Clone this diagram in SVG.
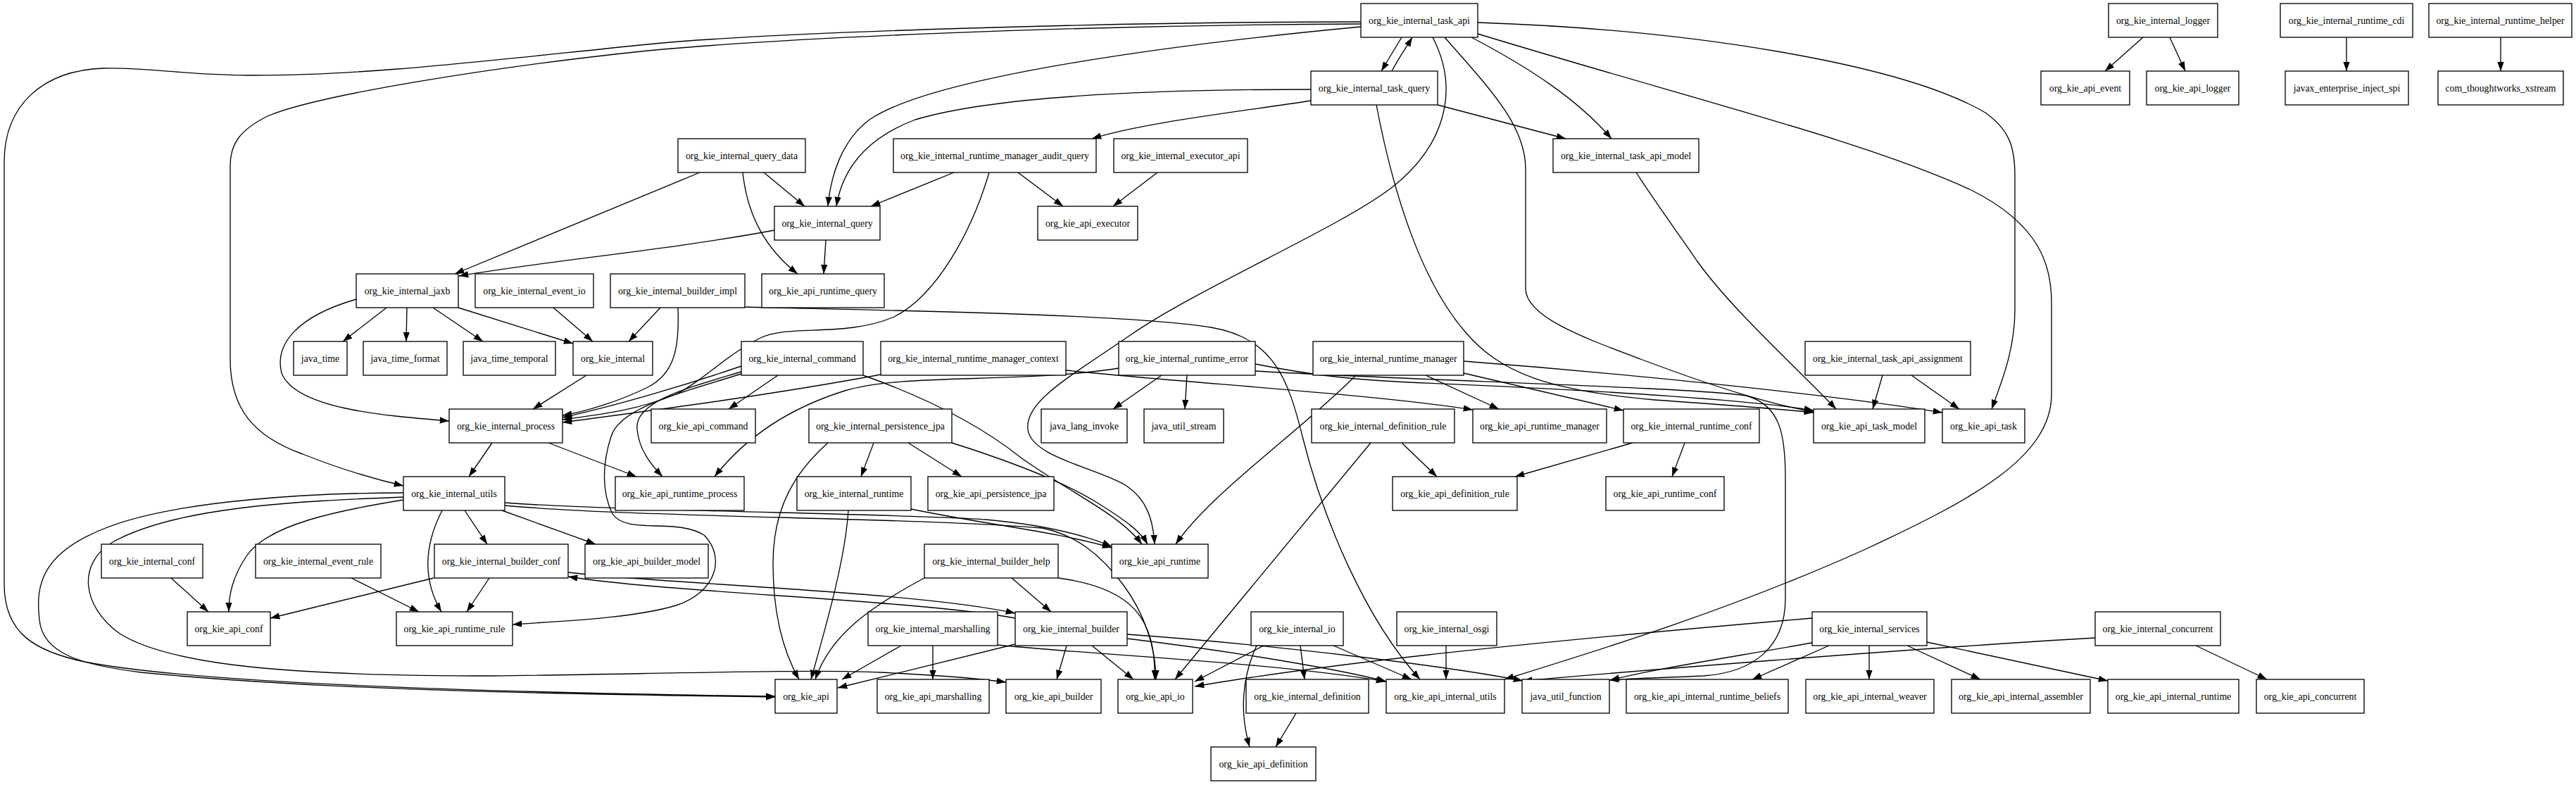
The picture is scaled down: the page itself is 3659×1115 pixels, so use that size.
<svg xmlns="http://www.w3.org/2000/svg" width="3659" height="1115" viewBox="0 0 3659 1115">
<style>
.n rect{fill:#fff;stroke:#000;stroke-width:1.33}
.n text{font-family:"Liberation Serif","Times New Roman",serif;font-size:13.8px;text-anchor:middle;fill:#000}
.e path{fill:none;stroke:#000;stroke-width:1.33;marker-end:url(#a)}
</style>
<defs>
<marker id="a" markerWidth="14" markerHeight="10" refX="13.3" refY="4.7" orient="auto" markerUnits="userSpaceOnUse"><path d="M0,0 L13.3,4.7 L0,9.4 z" fill="#000"/></marker>
</defs>
<rect width="3659" height="1115" fill="#fff"/>
<g id="edges" class="e">
<path d="M1991,53 L1962,101"/>
<path d="M1977,101 C1985,85 1997,68 2006,53"/>
<path d="M2090,53 C2170,95 2240,140 2289,197"/>
<path d="M1933,38 C1700,60 1330,105 1235,170 C1195,200 1180,250 1176,293"/>
<path d="M1933,31 C1600,31 1100,45 920,63 C700,85 520,108 352,107 C260,106 200,95 147,97 C60,100 6,150 6,230 L6,830 C6,900 50,925 120,940 C300,975 800,985 1101,989"/>
<path d="M1933,34 C1500,36 1100,55 920,72 C700,95 450,135 380,165 C340,185 327,205 327,235 L327,510 C327,580 360,620 430,645 C480,665 530,680 573,690"/>
<path d="M2035,53 C2075,130 2050,210 1976,267 C1900,325 1700,410 1604,477 C1520,535 1455,570 1460,610 C1465,650 1560,665 1600,690 C1630,710 1638,740 1640,773"/>
<path d="M2052,53 C2120,130 2167,180 2167,240 L2167,410 C2167,450 2250,480 2330,510 C2450,555 2520,575 2576,585"/>
<path d="M2099,32 C2400,42 2700,90 2820,160 C2855,185 2862,210 2862,250 L2862,440 C2862,500 2840,550 2829,581"/>
<path d="M2099,48 C2400,140 2650,200 2800,270 C2900,320 2914,380 2914,430 L2914,560 C2914,650 2800,710 2650,780 C2450,870 2250,930 2137,965"/>
<path d="M1862,127 C1600,127 1400,140 1300,170 C1220,200 1195,250 1188,293"/>
<path d="M1862,143 C1750,160 1620,175 1551,197"/>
<path d="M2042,149 L2224,197"/>
<path d="M1955,149 C1980,280 2020,400 2080,470 C2130,530 2200,555 2350,568 C2450,575 2520,580 2576,586"/>
<path d="M3044,53 L2990,101"/>
<path d="M3082,53 L3104,101"/>
<path d="M3333,53 L3333,101"/>
<path d="M3552,53 L3552,101"/>
<path d="M1085,245 L1143,293"/>
<path d="M994,245 L646,389"/>
<path d="M1055,245 C1062,310 1090,355 1133,389"/>
<path d="M1355,245 L1237,293"/>
<path d="M1446,245 L1510,293"/>
<path d="M1405,245 C1380,330 1330,420 1270,450 C1200,480 1120,460 1080,480 C1030,505 1000,540 960,560 C900,585 840,590 799,596"/>
<path d="M1644,245 L1581,293"/>
<path d="M2324,245 C2360,300 2390,340 2410,370 C2460,440 2550,520 2608,581"/>
<path d="M1100,327 C950,355 780,370 652,392"/>
<path d="M1173,341 L1170,389"/>
<path d="M549,437 L487,485"/>
<path d="M578,437 L577,485"/>
<path d="M615,437 L686,485"/>
<path d="M651,437 L814,488"/>
<path d="M506,425 C420,450 390,490 400,530 C420,580 540,590 638,598"/>
<path d="M786,437 L842,485"/>
<path d="M938,437 L893,485"/>
<path d="M963,437 C965,490 960,530 920,550 C880,570 830,585 799,590"/>
<path d="M1058,436 C1200,440 1600,445 1720,465 C1810,480 1830,540 1850,620 C1880,740 1940,880 2017,965"/>
<path d="M833,533 L757,581"/>
<path d="M1053,520 C980,545 880,575 799,593"/>
<path d="M1105,533 L1035,581"/>
<path d="M1053,528 C980,550 900,570 905,610 C908,640 925,660 941,677"/>
<path d="M1053,531 C960,560 880,580 868,620 C855,660 855,700 870,730 C890,760 960,735 1000,760 C1030,790 1020,840 960,860 C900,878 800,882 728,887"/>
<path d="M1226,533 C1330,570 1400,610 1450,650 C1520,700 1590,730 1622,773"/>
<path d="M1251,532 C1100,560 950,580 799,600"/>
<path d="M1514,526 C1700,545 1950,560 2092,582"/>
<path d="M1589,523 C1450,545 1280,530 1200,555 C1120,580 1060,620 1015,677"/>
<path d="M1650,533 L1581,581"/>
<path d="M1686,533 L1683,581"/>
<path d="M1783,517 C1850,530 1900,538 2000,543 C2300,555 2500,570 2576,583"/>
<path d="M1783,527 C2000,540 2400,550 2480,562 C2530,575 2536,620 2536,680 L2536,850 C2536,920 2490,955 2420,960 C2350,963 2310,964 2286,966"/>
<path d="M2025,533 L2129,581"/>
<path d="M2079,530 L2306,583"/>
<path d="M2079,513 C2300,530 2600,560 2759,586"/>
<path d="M1926,533 C1850,610 1720,700 1670,773"/>
<path d="M2674,533 L2660,581"/>
<path d="M2715,533 L2783,581"/>
<path d="M699,629 L666,677"/>
<path d="M779,629 L904,677"/>
<path d="M1241,629 L1223,677"/>
<path d="M1290,629 L1366,677"/>
<path d="M1176,629 C1130,670 1098,720 1098,800 C1098,880 1115,930 1135,965"/>
<path d="M1352,629 C1450,660 1520,690 1560,715 C1600,740 1620,755 1630,773"/>
<path d="M1991,629 L2041,677"/>
<path d="M1947,629 L1669,965"/>
<path d="M2319,629 L2152,677"/>
<path d="M2393,629 L2375,677"/>
<path d="M660,725 L692,773"/>
<path d="M713,725 L846,773"/>
<path d="M628,725 C605,770 598,820 627,869"/>
<path d="M573,710 C480,725 380,745 350,790 C330,820 325,845 325,869"/>
<path d="M573,700 C450,700 250,710 150,750 C60,785 50,830 56,880 C60,930 120,945 200,955 C450,980 800,986 1101,990"/>
<path d="M573,706 C420,712 250,720 160,770 C110,800 115,860 170,900 C250,950 450,960 700,960 C900,958 1150,950 1250,955 C1350,960 1400,965 1429,969"/>
<path d="M717,714 C850,725 1300,730 1400,738 C1480,745 1540,760 1579,776"/>
<path d="M717,718 C900,735 1300,735 1480,750 C1530,760 1565,790 1595,830 C1625,870 1642,920 1642,965"/>
<path d="M1294,723 C1400,745 1500,755 1579,778"/>
<path d="M1205,725 C1200,800 1170,900 1152,965"/>
<path d="M243,821 L296,869"/>
<path d="M499,821 L595,869"/>
<path d="M616,821 L384,878"/>
<path d="M695,821 L663,869"/>
<path d="M807,813 C950,830 1300,840 1442,871"/>
<path d="M1442,878 C1300,852 950,842 807,819"/>
<path d="M1313,821 C1240,860 1180,900 1158,965"/>
<path d="M1437,821 L1493,869"/>
<path d="M1503,821 C1610,835 1642,880 1640,965"/>
<path d="M1280,917 L1196,965"/>
<path d="M1325,917 L1325,965"/>
<path d="M1417,916 C1550,930 1800,940 1968,968"/>
<path d="M1442,915 L1190,977"/>
<path d="M1515,917 L1501,965"/>
<path d="M1551,917 L1610,965"/>
<path d="M1601,907 C1750,925 1900,950 1969,968"/>
<path d="M1601,901 C1800,915 2050,945 2163,967"/>
<path d="M1795,917 L1697,968"/>
<path d="M1847,917 L1853,965"/>
<path d="M1785,917 C1765,960 1760,1010 1775,1061"/>
<path d="M1894,917 L2005,965"/>
<path d="M2054,917 L2054,965"/>
<path d="M1841,1013 L1812,1061"/>
<path d="M2574,878 C2200,910 1900,940 1697,975"/>
<path d="M2574,913 C2450,935 2350,950 2287,966"/>
<path d="M2598,917 L2489,965"/>
<path d="M2655,917 L2655,965"/>
<path d="M2709,917 L2813,965"/>
<path d="M2737,912 L2994,967"/>
<path d="M2976,906 C2700,922 2300,955 2163,967"/>
<path d="M3119,917 L3220,965"/>
</g>
<g id="org_kie_internal_task_api" class="n"><rect x="1933" y="5" width="166" height="48"/><text x="2016" y="33.5">org_kie_internal_task_api</text></g>
<g id="org_kie_internal_logger" class="n"><rect x="2995" y="5" width="155" height="48"/><text x="3072.5" y="33.5">org_kie_internal_logger</text></g>
<g id="org_kie_internal_runtime_cdi" class="n"><rect x="3239" y="5" width="188" height="48"/><text x="3333" y="33.5">org_kie_internal_runtime_cdi</text></g>
<g id="org_kie_internal_runtime_helper" class="n"><rect x="3450" y="5" width="203" height="48"/><text x="3551.5" y="33.5">org_kie_internal_runtime_helper</text></g>
<g id="org_kie_internal_task_query" class="n"><rect x="1862" y="101" width="180" height="48"/><text x="1952" y="129.5">org_kie_internal_task_query</text></g>
<g id="org_kie_api_event" class="n"><rect x="2899" y="101" width="126" height="48"/><text x="2962" y="129.5">org_kie_api_event</text></g>
<g id="org_kie_api_logger" class="n"><rect x="3049" y="101" width="131" height="48"/><text x="3114.5" y="129.5">org_kie_api_logger</text></g>
<g id="javax_enterprise_inject_spi" class="n"><rect x="3246" y="101" width="175" height="48"/><text x="3333.5" y="129.5">javax_enterprise_inject_spi</text></g>
<g id="com_thoughtworks_xstream" class="n"><rect x="3463" y="101" width="178" height="48"/><text x="3552" y="129.5">com_thoughtworks_xstream</text></g>
<g id="org_kie_internal_query_data" class="n"><rect x="963" y="197" width="181" height="48"/><text x="1053.5" y="225.5">org_kie_internal_query_data</text></g>
<g id="org_kie_internal_runtime_manager_audit_query" class="n"><rect x="1269" y="197" width="288" height="48"/><text x="1413" y="225.5">org_kie_internal_runtime_manager_audit_query</text></g>
<g id="org_kie_internal_executor_api" class="n"><rect x="1582" y="197" width="190" height="48"/><text x="1677" y="225.5">org_kie_internal_executor_api</text></g>
<g id="org_kie_internal_task_api_model" class="n"><rect x="2206" y="197" width="207" height="48"/><text x="2309.5" y="225.5">org_kie_internal_task_api_model</text></g>
<g id="org_kie_internal_query" class="n"><rect x="1100" y="293" width="150" height="48"/><text x="1175" y="321.5">org_kie_internal_query</text></g>
<g id="org_kie_api_executor" class="n"><rect x="1474" y="293" width="142" height="48"/><text x="1545" y="321.5">org_kie_api_executor</text></g>
<g id="org_kie_internal_jaxb" class="n"><rect x="506" y="389" width="145" height="48"/><text x="578.5" y="417.5">org_kie_internal_jaxb</text></g>
<g id="org_kie_internal_event_io" class="n"><rect x="675" y="389" width="168" height="48"/><text x="759" y="417.5">org_kie_internal_event_io</text></g>
<g id="org_kie_internal_builder_impl" class="n"><rect x="867" y="389" width="191" height="48"/><text x="962.5" y="417.5">org_kie_internal_builder_impl</text></g>
<g id="org_kie_api_runtime_query" class="n"><rect x="1082" y="389" width="174" height="48"/><text x="1169" y="417.5">org_kie_api_runtime_query</text></g>
<g id="java_time" class="n"><rect x="417" y="485" width="76" height="48"/><text x="455" y="513.5">java_time</text></g>
<g id="java_time_format" class="n"><rect x="516" y="485" width="119" height="48"/><text x="575.5" y="513.5">java_time_format</text></g>
<g id="java_time_temporal" class="n"><rect x="658" y="485" width="131" height="48"/><text x="723.5" y="513.5">java_time_temporal</text></g>
<g id="org_kie_internal" class="n"><rect x="814" y="485" width="113" height="48"/><text x="870.5" y="513.5">org_kie_internal</text></g>
<g id="org_kie_internal_command" class="n"><rect x="1053" y="485" width="173" height="48"/><text x="1139.5" y="513.5">org_kie_internal_command</text></g>
<g id="org_kie_internal_runtime_manager_context" class="n"><rect x="1251" y="485" width="263" height="48"/><text x="1382.5" y="513.5">org_kie_internal_runtime_manager_context</text></g>
<g id="org_kie_internal_runtime_error" class="n"><rect x="1589" y="485" width="194" height="48"/><text x="1686" y="513.5">org_kie_internal_runtime_error</text></g>
<g id="org_kie_internal_runtime_manager" class="n"><rect x="1865" y="485" width="214" height="48"/><text x="1972" y="513.5">org_kie_internal_runtime_manager</text></g>
<g id="org_kie_internal_task_api_assignment" class="n"><rect x="2564" y="485" width="235" height="48"/><text x="2681.5" y="513.5">org_kie_internal_task_api_assignment</text></g>
<g id="org_kie_internal_process" class="n"><rect x="638" y="581" width="161" height="48"/><text x="718.5" y="609.5">org_kie_internal_process</text></g>
<g id="org_kie_api_command" class="n"><rect x="925" y="581" width="148" height="48"/><text x="999" y="609.5">org_kie_api_command</text></g>
<g id="org_kie_internal_persistence_jpa" class="n"><rect x="1149" y="581" width="203" height="48"/><text x="1250.5" y="609.5">org_kie_internal_persistence_jpa</text></g>
<g id="java_lang_invoke" class="n"><rect x="1479" y="581" width="122" height="48"/><text x="1540" y="609.5">java_lang_invoke</text></g>
<g id="java_util_stream" class="n"><rect x="1625" y="581" width="113" height="48"/><text x="1681.5" y="609.5">java_util_stream</text></g>
<g id="org_kie_internal_definition_rule" class="n"><rect x="1863" y="581" width="203" height="48"/><text x="1964.5" y="609.5">org_kie_internal_definition_rule</text></g>
<g id="org_kie_api_runtime_manager" class="n"><rect x="2092" y="581" width="190" height="48"/><text x="2187" y="609.5">org_kie_api_runtime_manager</text></g>
<g id="org_kie_internal_runtime_conf" class="n"><rect x="2306" y="581" width="193" height="48"/><text x="2402.5" y="609.5">org_kie_internal_runtime_conf</text></g>
<g id="org_kie_api_task_model" class="n"><rect x="2576" y="581" width="158" height="48"/><text x="2655" y="609.5">org_kie_api_task_model</text></g>
<g id="org_kie_api_task" class="n"><rect x="2759" y="581" width="117" height="48"/><text x="2817.5" y="609.5">org_kie_api_task</text></g>
<g id="org_kie_internal_utils" class="n"><rect x="573" y="677" width="144" height="48"/><text x="645" y="705.5">org_kie_internal_utils</text></g>
<g id="org_kie_api_runtime_process" class="n"><rect x="874" y="677" width="183" height="48"/><text x="965.5" y="705.5">org_kie_api_runtime_process</text></g>
<g id="org_kie_internal_runtime" class="n"><rect x="1132" y="677" width="162" height="48"/><text x="1213" y="705.5">org_kie_internal_runtime</text></g>
<g id="org_kie_api_persistence_jpa" class="n"><rect x="1318" y="677" width="179" height="48"/><text x="1407.5" y="705.5">org_kie_api_persistence_jpa</text></g>
<g id="org_kie_api_definition_rule" class="n"><rect x="1978" y="677" width="177" height="48"/><text x="2066.5" y="705.5">org_kie_api_definition_rule</text></g>
<g id="org_kie_api_runtime_conf" class="n"><rect x="2281" y="677" width="168" height="48"/><text x="2365" y="705.5">org_kie_api_runtime_conf</text></g>
<g id="org_kie_internal_conf" class="n"><rect x="144" y="773" width="144" height="48"/><text x="216" y="801.5">org_kie_internal_conf</text></g>
<g id="org_kie_internal_event_rule" class="n"><rect x="363" y="773" width="178" height="48"/><text x="452" y="801.5">org_kie_internal_event_rule</text></g>
<g id="org_kie_internal_builder_conf" class="n"><rect x="617" y="773" width="190" height="48"/><text x="712" y="801.5">org_kie_internal_builder_conf</text></g>
<g id="org_kie_api_builder_model" class="n"><rect x="831" y="773" width="175" height="48"/><text x="918.5" y="801.5">org_kie_api_builder_model</text></g>
<g id="org_kie_internal_builder_help" class="n"><rect x="1313" y="773" width="190" height="48"/><text x="1408" y="801.5">org_kie_internal_builder_help</text></g>
<g id="org_kie_api_runtime" class="n"><rect x="1579" y="773" width="137" height="48"/><text x="1647.5" y="801.5">org_kie_api_runtime</text></g>
<g id="org_kie_api_conf" class="n"><rect x="266" y="869" width="118" height="48"/><text x="325" y="897.5">org_kie_api_conf</text></g>
<g id="org_kie_api_runtime_rule" class="n"><rect x="563" y="869" width="165" height="48"/><text x="645.5" y="897.5">org_kie_api_runtime_rule</text></g>
<g id="org_kie_internal_marshalling" class="n"><rect x="1233" y="869" width="184" height="48"/><text x="1325" y="897.5">org_kie_internal_marshalling</text></g>
<g id="org_kie_internal_builder" class="n"><rect x="1442" y="869" width="159" height="48"/><text x="1521.5" y="897.5">org_kie_internal_builder</text></g>
<g id="org_kie_internal_io" class="n"><rect x="1777" y="869" width="131" height="48"/><text x="1842.5" y="897.5">org_kie_internal_io</text></g>
<g id="org_kie_internal_osgi" class="n"><rect x="1984" y="869" width="142" height="48"/><text x="2055" y="897.5">org_kie_internal_osgi</text></g>
<g id="org_kie_internal_services" class="n"><rect x="2574" y="869" width="163" height="48"/><text x="2655.5" y="897.5">org_kie_internal_services</text></g>
<g id="org_kie_internal_concurrent" class="n"><rect x="2976" y="869" width="178" height="48"/><text x="3065" y="897.5">org_kie_internal_concurrent</text></g>
<g id="org_kie_api" class="n"><rect x="1101" y="965" width="88" height="48"/><text x="1145" y="993.5">org_kie_api</text></g>
<g id="org_kie_api_marshalling" class="n"><rect x="1246" y="965" width="159" height="48"/><text x="1325.5" y="993.5">org_kie_api_marshalling</text></g>
<g id="org_kie_api_builder" class="n"><rect x="1429" y="965" width="135" height="48"/><text x="1496.5" y="993.5">org_kie_api_builder</text></g>
<g id="org_kie_api_io" class="n"><rect x="1588" y="965" width="106" height="48"/><text x="1641" y="993.5">org_kie_api_io</text></g>
<g id="org_kie_internal_definition" class="n"><rect x="1770" y="965" width="174" height="48"/><text x="1857" y="993.5">org_kie_internal_definition</text></g>
<g id="org_kie_api_internal_utils" class="n"><rect x="1969" y="965" width="168" height="48"/><text x="2053" y="993.5">org_kie_api_internal_utils</text></g>
<g id="java_util_function" class="n"><rect x="2162" y="965" width="124" height="48"/><text x="2224" y="993.5">java_util_function</text></g>
<g id="org_kie_api_internal_runtime_beliefs" class="n"><rect x="2310" y="965" width="230" height="48"/><text x="2425" y="993.5">org_kie_api_internal_runtime_beliefs</text></g>
<g id="org_kie_api_internal_weaver" class="n"><rect x="2565" y="965" width="182" height="48"/><text x="2656" y="993.5">org_kie_api_internal_weaver</text></g>
<g id="org_kie_api_internal_assembler" class="n"><rect x="2772" y="965" width="197" height="48"/><text x="2870.5" y="993.5">org_kie_api_internal_assembler</text></g>
<g id="org_kie_api_internal_runtime" class="n"><rect x="2994" y="965" width="186" height="48"/><text x="3087" y="993.5">org_kie_api_internal_runtime</text></g>
<g id="org_kie_api_concurrent" class="n"><rect x="3205" y="965" width="153" height="48"/><text x="3281.5" y="993.5">org_kie_api_concurrent</text></g>
<g id="org_kie_api_definition" class="n"><rect x="1720" y="1061" width="149" height="48"/><text x="1794.5" y="1089.5">org_kie_api_definition</text></g>
</svg>
